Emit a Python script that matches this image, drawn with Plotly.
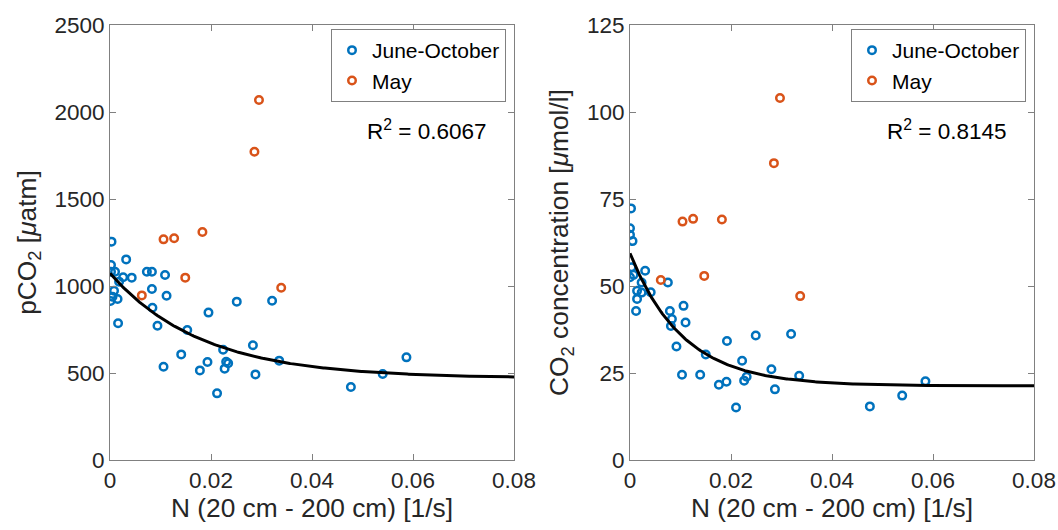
import numpy as np
import plotly.graph_objects as go

# ---- data ----
jo_n = [0.0003, 0.0032, 0.0002, 0.0002, 0.0010, 0.0073, 0.0083, 0.0109, 0.0026, 0.0043,
        0.0018, 0.0083, 0.0008, 0.0112, 0.0005, 0.0015, 0.0001, 0.0251, 0.0321, 0.0084,
        0.0195, 0.0016, 0.0094, 0.0153, 0.0283, 0.0224, 0.0141, 0.0335, 0.0230, 0.0234,
        0.0193, 0.0106, 0.0178, 0.0227, 0.0288, 0.0212, 0.0477, 0.0540, 0.0587]
jo_pco2 = [1255, 1153, 1121, 1082, 1082, 1082, 1082, 1063, 1050, 1048,
           1025, 983, 973, 944, 938, 925, 914, 910, 915, 875,
           847, 786, 772, 747, 659, 634, 607, 571, 565, 556,
           563, 536, 515, 525, 492, 383, 420, 494, 590]

may_n = [0.0106, 0.0127, 0.0183, 0.0149, 0.0063, 0.0339, 0.0295, 0.0286]
may_pco2 = [1268, 1274, 1310, 1048, 946, 990, 2069, 1772]

jo2_n = [0.0002, 0.0000, 0.0000, 0.0005, 0.0003, 0.0000, 0.0007, 0.0030, 0.0023, 0.0075,
         0.0014, 0.0023, 0.0041, 0.0014, 0.0012, 0.0079, 0.0083, 0.0081, 0.0106, 0.0110,
         0.0249, 0.0319, 0.0192, 0.0092, 0.0150, 0.0222, 0.0280, 0.0335, 0.0103, 0.0139,
         0.0231, 0.0226, 0.0191, 0.0176, 0.0287, 0.0210, 0.0585, 0.0539, 0.0475]
jo_conc = [72.3, 66.6, 64.7, 62.9, 55.4, 52.5, 53.2, 54.4, 51.0, 51.0,
           48.6, 48.1, 48.2, 46.3, 42.8, 42.8, 40.5, 38.5, 44.3, 39.5,
           35.8, 36.2, 34.2, 32.6, 30.3, 28.5, 26.1, 24.2, 24.5, 24.5,
           23.9, 22.8, 22.5, 21.6, 20.3, 15.1, 22.6, 18.5, 15.4]

may2_n = [0.0104, 0.0125, 0.0182, 0.0147, 0.0061, 0.0337, 0.0297, 0.0285]
may_conc = [68.5, 69.3, 69.1, 52.9, 51.7, 47.1, 104.0, 85.3]

# exponential fit parameters y = a + b*exp(-c*x)
fit_left = (470.0, 603.0, 55.0)
fit_right = (21.3, 38.1, 95.0)
r2_left = "0.6067"
r2_right = "0.8145"

x_ticks = [0, 0.02, 0.04, 0.06, 0.08]
x_ticklabels = ["0", "0.02", "0.04", "0.06", "0.08"]
y_ticks_left = [0, 500, 1000, 1500, 2000, 2500]
y_ticks_right = [0, 25, 50, 75, 100, 125]

BLUE = "#0072BD"
ORANGE = "#D95319"
AXC = "#808080"
TXT = "#262626"
FONT = "Liberation Sans, Arial, sans-serif"

xfit = np.linspace(0, 0.08, 300)

def fitcurve(p):
    a, b, c = p
    return a + b * np.exp(-c * xfit)

fig = go.Figure()

mk = dict(symbol="circle-open", size=7.5, line=dict(width=2.5))

fig.add_trace(go.Scatter(x=jo_n, y=jo_pco2, mode="markers", name="June-October",
                         marker=dict(color=BLUE, **mk), xaxis="x", yaxis="y", legend="legend"))
fig.add_trace(go.Scatter(x=may_n, y=may_pco2, mode="markers", name="May",
                         marker=dict(color=ORANGE, **mk), xaxis="x", yaxis="y", legend="legend"))
fig.add_trace(go.Scatter(x=xfit, y=fitcurve(fit_left), mode="lines", showlegend=False,
                         line=dict(color="black", width=3), xaxis="x", yaxis="y"))

fig.add_trace(go.Scatter(x=jo2_n, y=jo_conc, mode="markers", name="June-October",
                         marker=dict(color=BLUE, **mk), xaxis="x2", yaxis="y2", legend="legend2"))
fig.add_trace(go.Scatter(x=may2_n, y=may_conc, mode="markers", name="May",
                         marker=dict(color=ORANGE, **mk), xaxis="x2", yaxis="y2", legend="legend2"))
fig.add_trace(go.Scatter(x=xfit, y=fitcurve(fit_right), mode="lines", showlegend=False,
                         line=dict(color="black", width=3), xaxis="x2", yaxis="y2"))

# body margin is removed in the page (see post_script), so the figure fills the window
W, H = 1058, 530
ML, MR, MT, MB = 110, 24, 25, 70
PW, PH = W - ML - MR, H - MT - MB

def px_x(p):
    return (p - ML) / PW

def px_y(p):
    return 1 - (p - MT) / PH

TF = dict(size=22.5, color=TXT, family=FONT)
LF = dict(size=26.3, color=TXT, family=FONT)

axcommon = dict(showline=True, linecolor=AXC, linewidth=1, mirror="ticks", ticks="inside",
                ticklen=6, tickcolor=AXC, showgrid=False, zeroline=False, automargin=False,
                tickfont=TF)

xax = dict(axcommon, range=[0, 0.08], tickvals=x_ticks, ticktext=x_ticklabels,
           title=dict(text="N (20 cm - 200 cm) [1/s]", font=LF, standoff=6))

legcommon = dict(xanchor="right", yanchor="top", bordercolor=AXC, borderwidth=1, bgcolor="white",
                 font=dict(size=21, color="black", family=FONT), tracegroupgap=0)

fig.update_layout(
    width=W, height=H,
    margin=dict(l=ML, r=MR, t=MT, b=MB),
    paper_bgcolor="white", plot_bgcolor="white",
    font=dict(family=FONT, color=TXT),
    xaxis=dict(xax, domain=[px_x(110), px_x(514)], anchor="y"),
    xaxis2=dict(xax, domain=[px_x(630), px_x(1034)], anchor="y2"),
    yaxis=dict(axcommon, domain=[0, 1], range=[0, 2500], tickvals=y_ticks_left, anchor="x",
               title=dict(text="pCO<sub>2</sub> [<i>μ</i>atm]", font=LF, standoff=10)),
    yaxis2=dict(axcommon, domain=[0, 1], range=[0, 125], tickvals=y_ticks_right, anchor="x2",
                title=dict(text="CO<sub>2</sub> concentration [<i>μ</i>mol/l]", font=LF, standoff=10)),
    legend=dict(legcommon, x=px_x(506), y=px_y(29)),
    legend2=dict(legcommon, x=px_x(1026), y=px_y(29)),
    annotations=[
        dict(x=0.0627, y=1897, xref="x", yref="y", showarrow=False,
             text="R<sup>2</sup> = " + r2_left, font=dict(size=22.5, color="black", family=FONT)),
        dict(x=0.0626, y=94.8, xref="x2", yref="y2", showarrow=False,
             text="R<sup>2</sup> = " + r2_right, font=dict(size=22.5, color="black", family=FONT)),
    ],
)

fig.write_html(
    "out.html",
    config={"displayModeBar": False},
    post_script=(
        "document.body.style.margin='0';"
        "document.body.style.overflow='hidden';"
        "document.documentElement.style.overflow='hidden';"
    ),
)
